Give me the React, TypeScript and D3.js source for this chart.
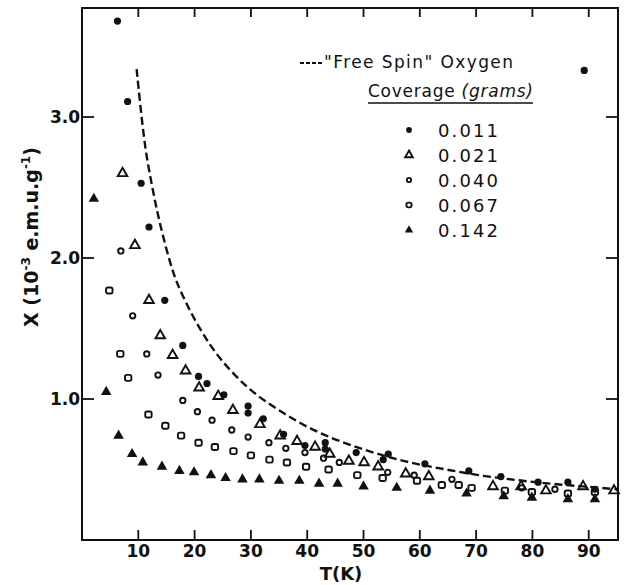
import React from 'react';
import * as d3 from 'd3';

// susceptibility vs temperature
const coverages = ['0.011', '0.021', '0.040', '0.067', '0.142'];

const t011 = [6.3, 8.1, 10.5, 11.9, 14.7, 17.9, 20.7, 22.2, 25.2, 29.5, 29.5, 32.2, 35.8, 39.6, 43.2, 43.2, 48.7, 53.5, 54.4, 60.9, 68.7, 74.4, 81.0, 86.3, 91.1, 89.2];
const chi011 = [3.68, 3.11, 2.53, 2.22, 1.70, 1.38, 1.16, 1.11, 1.03, 0.95, 0.90, 0.86, 0.75, 0.67, 0.69, 0.645, 0.62, 0.57, 0.61, 0.54, 0.49, 0.45, 0.41, 0.41, 0.36, 3.33];

const t021 = [7.2, 9.4, 11.9, 13.9, 16.1, 18.4, 20.8, 24.2, 26.8, 31.6, 35.2, 38.2, 41.4, 44.0, 47.4, 50.1, 52.6, 57.5, 61.6, 73.0, 78.0, 82.4, 89.0, 94.5];
const chi021 = [2.60, 2.09, 1.70, 1.45, 1.31, 1.20, 1.08, 1.02, 0.92, 0.82, 0.74, 0.70, 0.66, 0.61, 0.56, 0.55, 0.52, 0.47, 0.45, 0.38, 0.38, 0.35, 0.38, 0.35];

const t040 = [6.9, 9.0, 11.5, 13.5, 17.9, 20.5, 23.1, 26.6, 29.5, 33.2, 36.2, 39.6, 42.9, 45.7, 54.3, 59.0, 65.7, 78.1, 84.0];
const chi040 = [2.05, 1.59, 1.32, 1.17, 0.99, 0.91, 0.85, 0.78, 0.73, 0.69, 0.65, 0.62, 0.58, 0.55, 0.48, 0.46, 0.43, 0.37, 0.36];

const t067 = [4.85, 6.8, 8.2, 11.8, 14.8, 17.6, 20.7, 23.6, 26.9, 30.0, 33.3, 36.4, 39.8, 43.8, 48.9, 53.4, 59.5, 63.9, 66.9, 69.2, 75.1, 79.9, 86.3, 91.1];
const chi067 = [1.77, 1.32, 1.15, 0.89, 0.81, 0.74, 0.69, 0.66, 0.63, 0.60, 0.57, 0.55, 0.52, 0.50, 0.46, 0.44, 0.42, 0.39, 0.39, 0.37, 0.35, 0.34, 0.33, 0.34];

const t142 = [2.1, 4.3, 6.5, 8.9, 10.8, 14.2, 17.3, 19.9, 22.9, 25.5, 28.5, 31.5, 35.0, 38.6, 42.1, 45.4, 50.0, 55.9, 61.8, 68.3, 74.9, 79.9, 86.3, 91.1];
const chi142 = [2.42, 1.05, 0.74, 0.61, 0.55, 0.52, 0.49, 0.48, 0.46, 0.44, 0.43, 0.43, 0.42, 0.42, 0.40, 0.40, 0.38, 0.37, 0.35, 0.33, 0.31, 0.30, 0.29, 0.29];

// "free spin" oxygen curve
const freeT = [9.7, 11.2, 12.5, 14, 16.2, 17.7, 20.8, 24.5, 29.8, 35.8, 41.7, 47.6, 53.5, 59.4, 65.4, 71.3, 77.2, 83.1, 89, 95];
const freeChi = [3.34, 2.80, 2.50, 2.22, 1.90, 1.75, 1.51, 1.29, 1.07, 0.90, 0.77, 0.675, 0.60, 0.54, 0.495, 0.455, 0.425, 0.40, 0.38, 0.36];

const xTicks = [10, 20, 30, 40, 50, 60, 70, 80, 90];
const yTicks = [1, 2, 3];
const yTickLabels = ['1.0', '2.0', '3.0'];

const W = 626;
const H = 585;
const FONT = '"DejaVu Sans", sans-serif';

const x = d3.scaleLinear().domain([0, 95.2]).range([82, 618]);
const y = d3.scaleLinear().domain([0, 3.773]).range([540, 8]);

const triOpen = d3.symbol(d3.symbolTriangle, 40)();
const triFill = d3.symbol(d3.symbolTriangle, 48)();

function Marker({ kind, cx, cy, s = 1 }: { kind: number; cx: number; cy: number; s?: number }) {
  const tr = `translate(${cx},${cy}) scale(${s})`;
  if (kind === 0) return <circle cx={cx} cy={cy} r={3.6 * s} fill="#111" />;
  if (kind === 1)
    return <path d={triOpen || ''} transform={tr} fill="none" stroke="#111" strokeWidth={1.9 / s} />;
  if (kind === 2) return <circle cx={cx} cy={cy} r={2.7 * s} fill="none" stroke="#111" strokeWidth={1.9} />;
  if (kind === 3)
    return (
      <rect x={cx - 3.2 * s} y={cy - 3 * s} width={6.4 * s} height={6 * s} rx={1.8}
        fill="none" stroke="#111" strokeWidth={1.9} />
    );
  return <path d={triFill || ''} transform={tr} fill="#111" />;
}

export default function App() {
  const series = [
    [t011, chi011],
    [t021, chi021],
    [t040, chi040],
    [t067, chi067],
    [t142, chi142],
  ];

  const curve = d3
    .line<number>()
    .x((d) => x(freeT[d]))
    .y((d) => y(freeChi[d]))
    .curve(d3.curveCatmullRom);

  const legendY = [130, 155, 180, 205, 230];

  return (
    <svg width={W} height={H} style={{ position: 'absolute', left: 0, top: 0, background: '#fff' }} fontFamily={FONT}>
      <rect width={W} height={H} fill="#fff" />

      {/* frame */}
      <rect x={82} y={8} width={536} height={532} fill="none" stroke="#111" strokeWidth={2} />

      {/* x ticks top & bottom, inward */}
      {xTicks.map((t) => (
        <g key={'xt' + t}>
          <line x1={x(t)} x2={x(t)} y1={540} y2={530} stroke="#111" strokeWidth={1.8} />
          <line x1={x(t)} x2={x(t)} y1={8} y2={17} stroke="#111" strokeWidth={1.8} />
          <text x={x(t)} y={557} textAnchor="middle" fontSize={17} fontWeight="bold" fill="#111">
            {t}
          </text>
        </g>
      ))}

      {/* y ticks left & right, inward */}
      {yTicks.map((v, i) => (
        <g key={'yt' + v}>
          <line x1={82} x2={94} y1={y(v)} y2={y(v)} stroke="#111" strokeWidth={1.8} />
          <line x1={618} x2={606} y1={y(v)} y2={y(v)} stroke="#111" strokeWidth={1.8} />
          <text x={80} y={y(v) + 6} textAnchor="end" fontSize={17} fontWeight="bold" fill="#111">
            {yTickLabels[i]}
          </text>
        </g>
      ))}

      {/* axis titles */}
      <text x={341} y={580} textAnchor="middle" fontSize={18} fontWeight="bold" fill="#111">
        T(K)
      </text>
      <text transform="translate(38,237) rotate(-90)" textAnchor="middle" fontSize={19} fontWeight="bold" fill="#111">
        X (10
        <tspan dy={-8} fontSize={12}>-3</tspan>
        <tspan dy={8}> e.m.u.g</tspan>
        <tspan dy={-8} fontSize={12}>-1</tspan>
        <tspan dy={8}>)</tspan>
      </text>

      {/* free spin curve */}
      <path
        d={curve(d3.range(freeT.length)) || ''}
        fill="none"
        stroke="#111"
        strokeWidth={2.4}
        strokeDasharray="8 4"
      />

      {/* data */}
      {series.map(([ts, cs], k) =>
        ts.map((t, i) => <Marker key={k + '-' + i} kind={k} cx={x(t)} cy={y(cs[i])} />)
      )}

      {/* legend */}
      <line x1={300} x2={322} y1={63} y2={63} stroke="#111" strokeWidth={2} strokeDasharray="4 2" />
      <text x={324} y={68} fontSize={17} fill="#111" textLength={189} lengthAdjust="spacing">
        "Free Spin" Oxygen
      </text>
      <text x={368} y={97} fontSize={17} fill="#111" textLength={165} lengthAdjust="spacing">
        Coverage <tspan fontStyle="italic">(grams)</tspan>
      </text>
      <line x1={368} x2={533} y1={103} y2={103} stroke="#111" strokeWidth={1.5} />
      {coverages.map((c, k) => (
        <g key={'lg' + c}>
          <Marker kind={k} cx={409} cy={legendY[k]} s={0.8} />
          <text x={438} y={legendY[k] + 7} fontSize={18} fill="#111" textLength={60} lengthAdjust="spacing">
            {c}
          </text>
        </g>
      ))}
    </svg>
  );
}
